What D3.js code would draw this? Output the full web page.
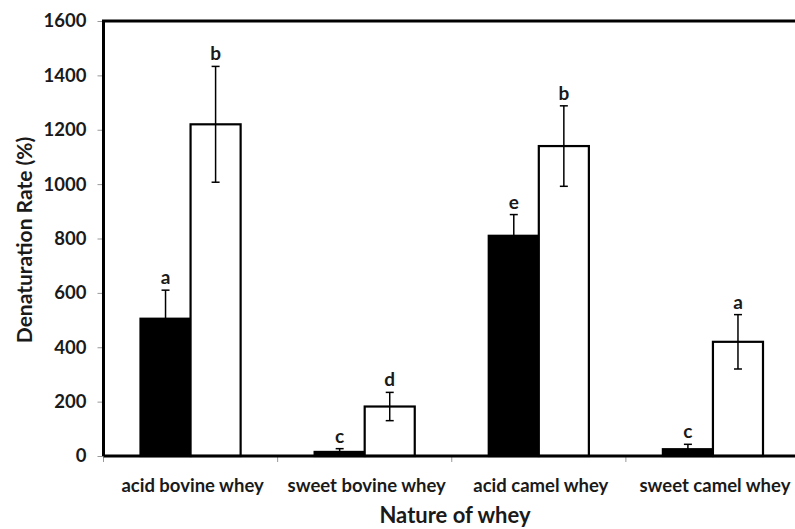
<!DOCTYPE html>
<html>
<head>
<meta charset="utf-8">
<script src="https://cdn.jsdelivr.net/npm/d3@7"></script>
<style>
  body { margin: 0; background: #fff; }
  text { font-family: Lato, "Open Sans", sans-serif; fill: #1a1a1a; }
</style>
</head>
<body>
<div id="chart"></div>
<script>
// data
var categories = ["acid bovine whey", "sweet bovine whey", "acid camel whey", "sweet camel whey"]
var seriesNames = ["filled", "open"]
var filledValues = [505, 15, 810, 25]
var filledErrors = [105, 12, 78, 18]
var filledLetters = ["a", "c", "e", "c"]
var openValues = [1220, 182, 1140, 420]
var openErrors = [213, 52, 148, 100]
var openLetters = ["b", "d", "b", "a"]
var yTicks = [0, 200, 400, 600, 800, 1000, 1200, 1400, 1600]

var width = 795
var height = 529
var margin = {top: 21, right: -5, bottom: 73, left: 103.5}

var svg = d3.select("#chart")
  .append("svg")
    .attr("width", width)
    .attr("height", height)

var x0 = d3.scaleBand()
  .domain(categories)
  .range([margin.left, width - margin.right])

var x1 = d3.scaleBand()
  .domain(seriesNames)
  .range([37, x0.bandwidth() - 37])

var y = d3.scaleLinear()
  .domain([0, 1600])
  .range([height - margin.bottom, margin.top])

// build rows from the arrays
var rows = []
categories.forEach(function(c, i) {
  rows.push({cat: c, s: "filled", v: filledValues[i], e: filledErrors[i], l: filledLetters[i]})
  rows.push({cat: c, s: "open", v: openValues[i], e: openErrors[i], l: openLetters[i]})
})

// y axis ticks + labels
var yAxis = svg.append("g")
  .attr("transform", "translate(" + margin.left + ",0)")
  .call(d3.axisLeft(y).tickValues(yTicks).tickFormat(d3.format("d")).tickSize(6).tickPadding(11))
yAxis.select(".domain").remove()
yAxis.selectAll("line").attr("stroke", "#999").attr("stroke-width", 1)
yAxis.selectAll("text")
  .style("font-family", "Lato, sans-serif")
  .style("font-size", "18.5px")
  .style("font-weight", "bold")
  .attr("fill", "#1a1a1a")

// x axis separator ticks
var xAxis = svg.append("g")
  .attr("transform", "translate(0," + y(0) + ")")
xAxis.selectAll("line")
  .data(categories.concat([null]))
  .enter()
  .append("line")
    .attr("x1", function(d, i) { return margin.left + i * x0.step() })
    .attr("x2", function(d, i) { return margin.left + i * x0.step() })
    .attr("y1", 0)
    .attr("y2", 6)
    .attr("stroke", "#999")
    .attr("stroke-width", 1)
xAxis.selectAll("text")
  .data(categories)
  .enter()
  .append("text")
    .attr("x", function(d) { return x0(d) + x0.bandwidth() / 2 + 2 })
    .attr("y", 36)
    .attr("text-anchor", "middle")
    .style("font-size", "18.5px")
    .style("font-weight", "bold")
    .text(function(d) { return d })

// bars
svg.selectAll("rect.bar")
  .data(rows)
  .enter()
  .append("rect")
    .attr("class", "bar")
    .attr("x", function(d) { return x0(d.cat) + x1(d.s) })
    .attr("y", function(d) { return y(d.v) })
    .attr("width", x1.bandwidth())
    .attr("height", function(d) { return y(0) - y(d.v) })
    .attr("fill", function(d) { return d.s == "filled" ? "#000" : "#fff" })
    .attr("stroke", "#000")
    .attr("stroke-width", 2.2)

// error bars
var eb = svg.selectAll("g.err")
  .data(rows)
  .enter()
  .append("g")
    .attr("class", "err")
    .attr("transform", function(d) { return "translate(" + (x0(d.cat) + x1(d.s) + x1.bandwidth() / 2) + ",0)" })
eb.append("line")
  .attr("y1", function(d) { return y(d.v + d.e) })
  .attr("y2", function(d) { return y(Math.max(0, d.v - d.e)) })
  .attr("stroke", "#000").attr("stroke-width", 1.5)
eb.append("line")
  .attr("x1", -4).attr("x2", 4)
  .attr("y1", function(d) { return y(d.v + d.e) })
  .attr("y2", function(d) { return y(d.v + d.e) })
  .attr("stroke", "#000").attr("stroke-width", 1.5)
eb.append("line")
  .attr("x1", -4).attr("x2", 4)
  .attr("y1", function(d) { return y(Math.max(0, d.v - d.e)) })
  .attr("y2", function(d) { return y(Math.max(0, d.v - d.e)) })
  .attr("stroke", function(d) { return d.s == "filled" ? "none" : "#000" })
  .attr("stroke-width", 1.5)
eb.append("text")
  .attr("y", function(d) { return y(d.v + d.e) - 6 })
  .attr("text-anchor", "middle")
  .style("font-size", "19px")
  .style("font-weight", "bold")
  .text(function(d) { return d.l })

// plot frame
svg.append("path")
  .attr("d", "M" + margin.left + "," + y(0) + "V" + margin.top + "H" + (width + 5) +
       "M" + margin.left + "," + y(0) + "H" + (width + 5))
  .attr("fill", "none")
  .attr("stroke", "#000")
  .attr("stroke-width", 3)

// axis titles
svg.append("text")
  .attr("transform", "translate(32,240) rotate(-90)")
  .attr("text-anchor", "middle")
  .style("font-size", "21px")
  .style("font-weight", "bold")
  .text("Denaturation Rate (%)")

svg.append("text")
  .attr("x", 455)
  .attr("y", 523)
  .attr("text-anchor", "middle")
  .style("font-size", "22px")
  .style("font-weight", "bold")
  .text("Nature of whey")
</script>
</body>
</html>
